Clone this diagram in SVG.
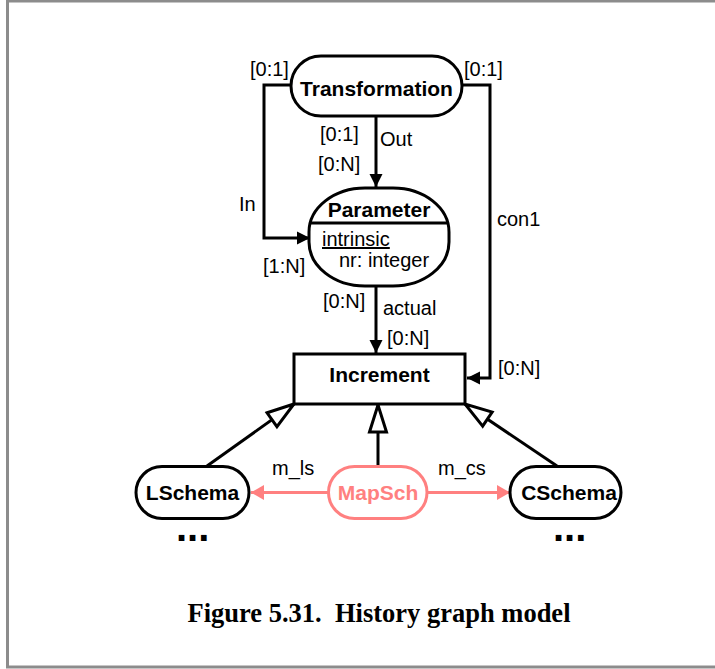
<svg xmlns="http://www.w3.org/2000/svg" width="715" height="669" viewBox="0 0 715 669">
  <style>
    .frame { fill: #ffffff; stroke: #8c8c8c; stroke-width: 3; }
    .node { fill: #ffffff; stroke: #000000; stroke-width: 3; }
    .map { fill: #ffffff; stroke: #ff8080; stroke-width: 3; }
    .edge { fill: none; stroke: #000000; stroke-width: 3; }
    .mapedge { fill: none; stroke: #ff8080; stroke-width: 3; }
    .name { font-family: "Liberation Sans", Arial, sans-serif; font-weight: bold; font-size: 21px; fill: #000000; text-anchor: middle; }
    .mapname { font-family: "Liberation Sans", Arial, sans-serif; font-weight: bold; font-size: 21px; fill: #ff8080; text-anchor: middle; }
    .lbl { font-family: "Liberation Sans", Arial, sans-serif; font-size: 20px; fill: #000000; }
    .dots { font-family: "Liberation Sans", Arial, sans-serif; font-weight: bold; font-size: 40px; fill: #000000; }
    .caption { font-family: "Liberation Serif", "Times New Roman", serif; font-weight: bold; font-size: 26.5px; fill: #000000; text-anchor: middle; white-space: pre; }
  </style>
  <defs>
    <marker id="arrow" markerUnits="userSpaceOnUse" markerWidth="14" markerHeight="14" refX="13" refY="6.5" orient="auto" overflow="visible">
      <path d="M0,0 L13,6.5 L0,13 Z" fill="#000000"/>
    </marker>
    <marker id="arrowMap" markerUnits="userSpaceOnUse" markerWidth="14" markerHeight="15" refX="13" refY="7.5" orient="auto" overflow="visible">
      <path d="M0,0 L13,7.5 L0,15 Z" fill="#ff8080"/>
    </marker>
    <marker id="inherit" markerUnits="userSpaceOnUse" markerWidth="30" markerHeight="20" refX="27" refY="8.5" orient="auto" overflow="visible">
      <path d="M0,0 L27,8.5 L0,17 Z" fill="#ffffff" stroke="#000000" stroke-width="3" stroke-linejoin="miter"/>
    </marker>
  </defs>

  <!-- page frame -->
  <rect class="frame" x="7.5" y="1" width="720" height="666"/>

  <!-- connectors -->
  <g id="connectors">
    <!-- In: Transformation -> Parameter -->
    <path class="edge" d="M291,85 H264 V238 H310" marker-end="url(#arrow)"/>
    <!-- con1: Transformation -> Increment -->
    <path class="edge" d="M462,85 H490 V378 H467" marker-end="url(#arrow)"/>
    <!-- Out: Transformation -> Parameter -->
    <path class="edge" d="M376,116 V187" marker-end="url(#arrow)"/>
    <!-- actual: Parameter -> Increment -->
    <path class="edge" d="M376,286 V353" marker-end="url(#arrow)"/>
    <!-- generalisations -->
    <path class="edge" d="M207,466 L294,404" marker-end="url(#inherit)"/>
    <path class="edge" d="M378,467 V405" marker-end="url(#inherit)"/>
    <path class="edge" d="M557,466 L465,404" marker-end="url(#inherit)"/>
    <!-- mappings -->
    <path class="mapedge" d="M328,492.5 H251" marker-end="url(#arrowMap)"/>
    <path class="mapedge" d="M427,492.5 H510" marker-end="url(#arrowMap)"/>

    <text class="lbl" x="250" y="76">[0:1]</text>
    <text class="lbl" x="464" y="76">[0:1]</text>
    <text class="lbl" x="320" y="141">[0:1]</text>
    <text class="lbl" x="380" y="146">Out</text>
    <text class="lbl" x="318" y="171">[0:N]</text>
    <text class="lbl" x="239" y="211">In</text>
    <text class="lbl" x="263" y="273">[1:N]</text>
    <text class="lbl" x="497" y="226">con1</text>
    <text class="lbl" x="323" y="308">[0:N]</text>
    <text class="lbl" x="383" y="315">actual</text>
    <text class="lbl" x="387" y="345">[0:N]</text>
    <text class="lbl" x="498" y="375">[0:N]</text>
    <text class="lbl" x="272" y="475">m_ls</text>
    <text class="lbl" x="438" y="475">m_cs</text>
  </g>

  <!-- Transformation -->
  <g id="transformation">
    <rect class="node" x="291" y="56" width="171" height="60" rx="30" ry="30"/>
    <text class="name" x="376.5" y="96">Transformation</text>
  </g>

  <!-- Parameter -->
  <g id="parameter">
    <rect class="node" x="309" y="188" width="140" height="98" rx="56" ry="44"/>
    <line class="edge" x1="310" y1="223" x2="448" y2="223"/>
    <text class="name" x="379" y="217">Parameter</text>
    <text class="lbl" x="322" y="246" text-decoration="underline">intrinsic</text>
    <text class="lbl" x="339" y="267">nr: integer</text>
  </g>

  <!-- Increment -->
  <g id="increment">
    <rect class="node" x="294" y="354" width="171" height="50"/>
    <text class="name" x="379.5" y="382">Increment</text>
  </g>

  <!-- LSchema -->
  <g id="lschema">
    <rect class="node" x="136" y="466.5" width="113" height="52" rx="26" ry="26"/>
    <text class="name" x="192.5" y="500">LSchema</text>
    <text class="dots" x="176" y="541">...</text>
  </g>

  <!-- MapSch -->
  <g id="mapsch">
    <rect class="map" x="328.5" y="466.5" width="98.5" height="52" rx="26" ry="26"/>
    <text class="mapname" x="378" y="500">MapSch</text>
  </g>

  <!-- CSchema -->
  <g id="cschema">
    <rect class="node" x="510" y="466.5" width="111" height="52" rx="26" ry="26"/>
    <text class="name" x="569" y="500">CSchema</text>
    <text class="dots" x="553" y="541">...</text>
  </g>

  <text class="caption" x="379" y="622" xml:space="preserve">Figure 5.31.  History graph model</text>
</svg>
